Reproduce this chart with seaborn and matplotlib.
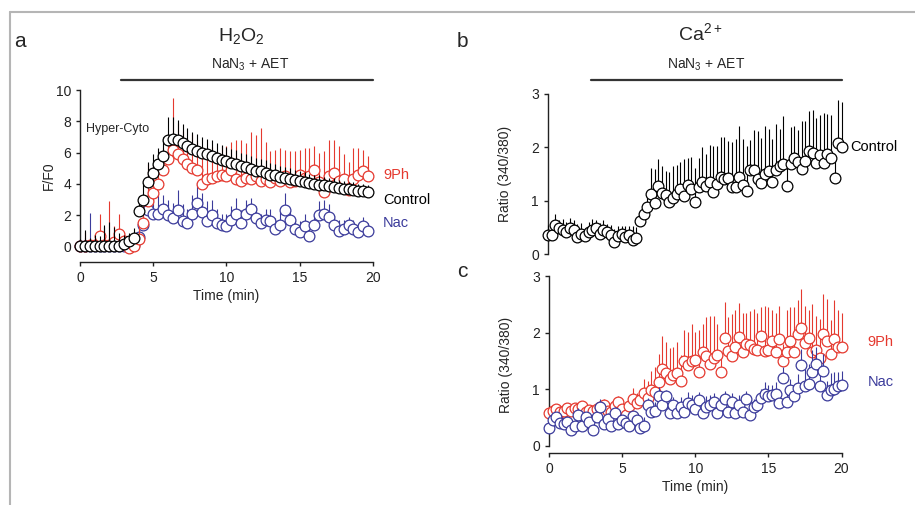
import numpy as np
import matplotlib
matplotlib.use("Agg")
import matplotlib.pyplot as plt
import matplotlib.transforms as mtransforms
from matplotlib.lines import Line2D
import seaborn as sns

# ------------------------------------------------------------
# Data
# ------------------------------------------------------------
# panel a: H2O2 (F/F0), one point every 20 s
t_a = np.arange(60) / 3

ctrl_a = [0.05, 0.05, 0.05, 0.05, 0.05, 0.05, 0.05, 0.05, 0.05, 0.15,
          0.35, 0.55, 2.25, 3.0, 4.1, 4.7, 5.3, 5.8, 6.8, 6.9,
          6.8, 6.6, 6.4, 6.25, 6.1, 6.0, 5.9, 5.8, 5.65, 5.55,
          5.45, 5.35, 5.25, 5.15, 5.05, 4.95, 4.85, 4.8, 4.7, 4.6,
          4.55, 4.45, 4.4, 4.3, 4.25, 4.2, 4.1, 4.05, 4.0, 3.95,
          3.9, 3.85, 3.8, 3.75, 3.7, 3.65, 3.6, 3.55, 3.55, 3.5]
ctrl_a_err = [0.4, 1.0, 0.5, 0.7, 0.6, 1.3, 1.5, 1.2, 0.8, 0.6,
              0.5, 0.6, 1.0, 1.1, 1.3, 1.2, 1.0, 1.2, 1.5, 1.4,
              1.3, 1.2, 1.2, 1.1, 1.1, 1.0, 1.0, 1.0, 0.95, 0.95,
              0.9, 0.9, 0.9, 0.85, 0.85, 0.85, 0.8, 0.8, 0.8, 0.75,
              0.75, 0.7, 0.7, 0.7, 0.65, 0.65, 0.65, 0.6, 0.6, 0.6,
              0.55, 0.55, 0.55, 0.5, 0.5, 0.5, 0.5, 0.45, 0.45, 0.45]

ph_a = [0.05, 0.05, 0.1, 0.1, 0.65, 0.1, 0.1, 0.3, 0.8, 0.35,
        -0.1, 0.0, 0.5, 1.5, 2.9, 3.4, 4.0, 4.9, 5.6, 6.2,
        5.9, 5.6, 5.3, 5.0, 4.9, 4.0, 4.3, 4.35, 4.5, 4.6,
        4.5, 4.9, 4.3, 4.2, 4.4, 4.3, 4.5, 4.2, 4.3, 4.1,
        4.4, 4.2, 4.5, 4.1, 4.2, 4.6, 4.4, 4.5, 4.9, 4.1,
        3.5, 4.5, 4.7, 4.2, 4.3, 3.6, 4.3, 4.6, 4.8, 4.5]
ph_a_err = [0.2, 0.9, 0.3, 0.3, 1.4, 0.4, 2.8, 1.0, 1.3, 0.6,
            0.4, 0.4, 0.8, 1.6, 2.4, 1.8, 1.5, 1.4, 1.6, 3.3,
            2.0, 1.8, 1.6, 2.2, 1.9, 1.8, 1.5, 2.0, 1.6, 1.8,
            1.9, 1.8, 2.5, 2.6, 2.2, 3.0, 2.6, 3.4, 2.4, 2.0,
            1.8, 2.1, 1.7, 2.0, 1.9, 1.6, 1.9, 1.8, 1.5, 1.9,
            2.6, 2.3, 2.1, 2.2, 1.6, 1.8, 2.0, 1.7, 1.4, 1.3]

nac_a = [0.05, 0.05, 0.05, 0.05, 0.05, 0.05, 0.05, 0.05, 0.05, 0.05,
         0.05, 0.1, 0.6, 1.4, 2.3, 2.1, 2.1, 2.4, 2.0, 1.8,
         2.3, 1.6, 1.5, 2.1, 2.8, 2.2, 1.6, 2.0, 1.5, 1.4,
         1.3, 1.7, 2.1, 1.5, 2.1, 2.4, 1.8, 1.5, 1.7, 1.6,
         1.1, 1.4, 2.3, 1.7, 1.1, 0.9, 1.3, 0.7, 1.4, 2.0,
         2.1, 1.9, 1.4, 1.0, 1.1, 1.4, 1.1, 0.9, 1.3, 1.0]
nac_a_err = [0.3, 0.5, 2.1, 0.6, 0.8, 1.2, 0.4, 0.9, 0.5, 0.4,
             0.3, 0.5, 0.9, 1.2, 1.3, 1.0, 1.2, 0.9, 1.0, 1.0,
             1.3, 1.1, 0.9, 1.2, 1.3, 1.2, 1.3, 1.0, 0.9, 0.7,
             0.8, 0.9, 1.0, 0.8, 0.9, 0.7, 0.8, 0.6, 0.7, 0.8,
             0.7, 0.8, 1.1, 0.6, 0.6, 0.7, 0.8, 0.6, 0.7, 0.9,
             0.9, 0.8, 0.6, 0.7, 0.6, 0.5, 0.6, 0.5, 0.6, 0.5]

# panels b and c: Ca2+ ratio (340/380), one point every 15 s
t_bc = np.arange(81) / 4

ctrl_b = [0.35, 0.35, 0.55, 0.48, 0.45, 0.42, 0.48, 0.45, 0.32, 0.38,
          0.33, 0.42, 0.45, 0.48, 0.38, 0.45, 0.42, 0.35, 0.22, 0.33,
          0.38, 0.32, 0.35, 0.27, 0.30,
          0.62, 0.75, 0.88, 1.12, 0.95, 1.28, 1.15, 1.10, 0.98, 1.05,
          1.12, 1.22, 1.08, 1.30, 1.22, 0.97, 1.25, 1.35, 1.28, 1.35,
          1.17, 1.32, 1.45, 1.40, 1.42, 1.25, 1.25, 1.45, 1.30, 1.18,
          1.58, 1.58, 1.40, 1.33, 1.50, 1.55, 1.35, 1.58, 1.65, 1.68,
          1.28, 1.68, 1.80, 1.72, 1.60, 1.75, 1.93, 1.90, 1.70, 1.85,
          1.70, 1.88, 1.80, 1.42, 2.08, 2.00]
ctrl_b_err = [0.2, 0.15, 0.2, 0.15, 0.2, 0.18, 0.2, 0.18, 0.25, 0.2,
              0.15, 0.18, 0.2, 0.15, 0.2, 0.18, 0.15, 0.2, 0.25, 0.2,
              0.15, 0.2, 0.18, 0.25, 0.2,
              0.1, 0.15, 0.2, 0.5, 0.65, 0.5, 0.5, 0.45, 0.55, 0.6,
              0.55, 0.5, 0.7, 0.5, 0.6, 0.65, 0.55, 0.65, 0.6, 0.7,
              0.85, 0.7, 0.75, 0.8, 0.7, 0.85, 0.9, 0.95, 0.85, 0.85,
              0.55, 0.75, 0.9, 0.85, 0.9, 0.8, 0.8, 0.85, 0.7, 0.9,
              0.35, 0.7, 0.6, 0.6, 0.9, 0.75, 0.75, 0.8, 0.85, 0.75,
              0.95, 0.75, 0.8, 0.35, 0.8, 0.85]

ph_c = [0.58, 0.62, 0.65, 0.60, 0.62, 0.66, 0.62, 0.67, 0.65, 0.70,
        0.60, 0.63, 0.62, 0.65, 0.68, 0.72, 0.62, 0.60, 0.70, 0.78,
        0.65, 0.55, 0.70, 0.82, 0.75, 0.80, 0.93, 0.85, 0.98, 0.95,
        1.12, 1.35, 1.28, 1.18, 1.25, 1.28, 1.15, 1.50, 1.42, 1.50,
        1.52, 1.30, 1.65, 1.58, 1.45, 1.55, 1.60, 1.30, 1.90, 1.68,
        1.58, 1.75, 1.92, 1.65, 1.80, 1.78, 1.72, 1.70, 1.95, 1.68,
        1.70, 1.85, 1.65, 1.88, 1.50, 1.65, 1.85, 1.65, 1.98, 2.08,
        1.82, 1.90, 1.65, 1.70, 1.55, 1.98, 1.85, 1.62, 1.88, 1.75,
        1.75]
ph_c_err = [0.08, 0.05, 0.06, 0.1, 0.08, 0.06, 0.1, 0.08, 0.05, 0.06,
            0.1, 0.08, 0.06, 0.1, 0.08, 0.1, 0.12, 0.1, 0.08, 0.1,
            0.12, 0.15, 0.1, 0.2, 0.18, 0.15, 0.25, 0.3, 0.35, 0.45,
            0.5, 0.6, 0.55, 0.55, 0.5, 0.55, 0.45, 0.55, 0.6, 0.65,
            0.5, 0.75, 0.5, 0.7, 0.85, 0.75, 0.55, 0.3, 0.65, 0.6,
            0.75, 0.65, 0.6, 0.7, 0.55, 0.6, 0.7, 0.65, 0.5, 0.8,
            0.75, 0.55, 0.7, 0.6, 0.3, 0.75, 0.6, 0.8, 0.6, 0.7,
            0.65, 0.5, 0.85, 0.6, 0.7, 0.7, 0.75, 0.6, 0.7, 0.65,
            0.6]

nac_c = [0.32, 0.45, 0.50, 0.40, 0.38, 0.42, 0.28, 0.35, 0.55, 0.35,
         0.50, 0.42, 0.28, 0.50, 0.68, 0.38, 0.48, 0.35, 0.58, 0.38,
         0.45, 0.40, 0.35, 0.52, 0.45, 0.32, 0.35, 0.72, 0.60, 0.62,
         0.88, 0.72, 0.88, 0.58, 0.72, 0.58, 0.68, 0.60, 0.75, 0.72,
         0.65, 0.80, 0.58, 0.68, 0.72, 0.78, 0.58, 0.72, 0.82, 0.60,
         0.78, 0.58, 0.72, 0.60, 0.82, 0.55, 0.68, 0.72, 0.85, 0.92,
         0.88, 0.90, 0.92, 0.75, 1.20, 0.78, 0.98, 0.88, 1.02, 1.42,
         1.05, 1.10, 1.30, 1.45, 1.05, 1.32, 0.90, 0.98, 1.00, 1.05,
         1.07]
nac_c_err = [0.1, 0.08, 0.1, 0.12, 0.08, 0.1, 0.15, 0.1, 0.12, 0.1,
             0.1, 0.12, 0.15, 0.1, 0.15, 0.12, 0.1, 0.15, 0.1, 0.12,
             0.1, 0.12, 0.15, 0.1, 0.12, 0.1, 0.15, 0.12, 0.1, 0.15,
             0.15, 0.2, 0.1, 0.2, 0.15, 0.2, 0.18, 0.15, 0.2, 0.18,
             0.2, 0.15, 0.25, 0.2, 0.18, 0.15, 0.2, 0.18, 0.15, 0.2,
             0.15, 0.2, 0.18, 0.2, 0.15, 0.2, 0.15, 0.18, 0.15, 0.2,
             0.2, 0.18, 0.2, 0.25, 0.2, 0.25, 0.2, 0.2, 0.25, 0.3,
             0.3, 0.35, 0.4, 0.3, 0.35, 0.3, 0.25, 0.3, 0.3, 0.25,
             0.25]

treat_start_a = 2.8
treat_start_b = 2.9

RED = "#e5392f"
BLUE = "#3b3b9b"
BLACK = "#000000"

# ------------------------------------------------------------
# Style
# ------------------------------------------------------------
sns.set_theme(style="ticks")
plt.rcParams["font.family"] = ["Liberation Sans", "DejaVu Sans"]
plt.rcParams["mathtext.default"] = "regular"
plt.rcParams["axes.linewidth"] = 1.0
plt.rcParams["xtick.major.size"] = 3
plt.rcParams["ytick.major.size"] = 3
plt.rcParams["xtick.major.width"] = 1.0
plt.rcParams["ytick.major.width"] = 1.0
plt.rcParams["xtick.labelsize"] = 10
plt.rcParams["ytick.labelsize"] = 10
plt.rcParams["xtick.color"] = "#222222"
plt.rcParams["ytick.color"] = "#222222"

fig = plt.figure(figsize=(9.15, 5.05), dpi=100)
ax_a = fig.add_axes([0.0874, 0.481, 0.3202, 0.3406])
ax_b = fig.add_axes([0.599, 0.497, 0.3213, 0.317])
ax_c = fig.add_axes([0.600, 0.103, 0.3197, 0.350])


def draw(ax, t, y, err, color, z):
    y = np.asarray(y)
    top = y + np.asarray(err)
    ax.vlines(t, y, top, color=color, lw=0.8, zorder=z, clip_on=False)
    sns.scatterplot(x=t, y=y, ax=ax, marker="o", s=60, color="white",
                    edgecolor=color, linewidth=0.9, zorder=z + 0.5,
                    clip_on=False, legend=False)


# --- panel a ---
draw(ax_a, t_a, nac_a, nac_a_err, BLUE, 2)
draw(ax_a, t_a, ph_a, ph_a_err, RED, 3)
draw(ax_a, t_a, ctrl_a, ctrl_a_err, BLACK, 4)
ax_a.set_xlim(0, 20)
ax_a.set_ylim(-1.0, 10)
ax_a.set_xticks([0, 5, 10, 15, 20])
ax_a.set_yticks([0, 2, 4, 6, 8, 10])
ax_a.spines["left"].set_bounds(0, 10)
ax_a.spines["bottom"].set_bounds(0, 20)
ax_a.set_xlabel("Time (min)", fontsize=10, labelpad=3)
ax_a.set_ylabel("F/F0", fontsize=10, labelpad=0)
ax_a.text(0.4, 7.5, "Hyper-Cyto", fontsize=9, va="center", ha="left")
ax_a.text(20.7, 4.55, "9Ph", color=RED, fontsize=10.5, va="center", clip_on=False)
ax_a.text(20.7, 2.95, "Control", color=BLACK, fontsize=10.5, va="center", clip_on=False)
ax_a.text(20.7, 1.47, "Nac", color=BLUE, fontsize=10.5, va="center", clip_on=False)

# --- panel b ---
draw(ax_b, t_bc, ctrl_b, ctrl_b_err, BLACK, 4)
ax_b.set_xlim(0, 20)
ax_b.set_ylim(0, 3)
ax_b.set_yticks([0, 1, 2, 3])
ax_b.set_xticks([])
ax_b.spines["bottom"].set_visible(False)
ax_b.spines["left"].set_bounds(0, 3)
ax_b.set_ylabel("Ratio (340/380)", fontsize=10, labelpad=14)
ax_b.text(20.55, 2.0, "Control", color=BLACK, fontsize=10.5, va="center", clip_on=False)

# --- panel c ---
draw(ax_c, t_bc, ph_c, ph_c_err, RED, 3)
draw(ax_c, t_bc, nac_c, nac_c_err, BLUE, 4)
ax_c.set_xlim(0, 20)
ax_c.set_ylim(-0.13, 3)
ax_c.set_xticks([0, 5, 10, 15, 20])
ax_c.set_yticks([0, 1, 2, 3])
ax_c.spines["left"].set_bounds(0, 3)
ax_c.spines["bottom"].set_bounds(0, 20)
ax_c.set_xlabel("Time (min)", fontsize=10, labelpad=3)
ax_c.set_ylabel("Ratio (340/380)", fontsize=10, labelpad=14)
ax_c.text(21.8, 1.83, "9Ph", color=RED, fontsize=10.5, va="center", clip_on=False)
ax_c.text(21.8, 1.13, "Nac", color=BLUE, fontsize=10.5, va="center", clip_on=False)

for ax in (ax_a, ax_b, ax_c):
    ax.spines["top"].set_visible(False)
    ax.spines["right"].set_visible(False)
    ax.spines["left"].set_color("#222222")
    ax.spines["bottom"].set_color("#222222")
    ax.patch.set_alpha(0)

# treatment bars above panels a and b
for ax, start in ((ax_a, treat_start_a), (ax_b, treat_start_b)):
    trans = mtransforms.blended_transform_factory(ax.transData, fig.transFigure)
    ax.plot([start, 20], [1 - 80 / 505, 1 - 80 / 505], color="#333333", lw=1.6,
            transform=trans, clip_on=False)

# titles and panel letters
fig.text(0.264, 0.928, "H$_2$O$_2$", fontsize=14, ha="center", va="center")
fig.text(0.273, 0.872, "NaN$_3$ + AET", fontsize=10, ha="center", va="center")
fig.text(0.765, 0.935, "Ca$^{2+}$", fontsize=14, ha="center", va="center")
fig.text(0.772, 0.872, "NaN$_3$ + AET", fontsize=10, ha="center", va="center")
fig.text(0.022, 0.917, "a", fontsize=15, ha="center", va="center")
fig.text(0.505, 0.917, "b", fontsize=15, ha="center", va="center")
fig.text(0.505, 0.462, "c", fontsize=15, ha="center", va="center")

# grey frame along top and left edges
fig.add_artist(Line2D([0.011, 1.0], [0.976, 0.976], color="#b5b5b5", lw=1.5,
                      transform=fig.transFigure))
fig.add_artist(Line2D([0.011, 0.011], [0.0, 0.976], color="#b5b5b5", lw=1.5,
                      transform=fig.transFigure))

fig.savefig("out.png", dpi=100)
